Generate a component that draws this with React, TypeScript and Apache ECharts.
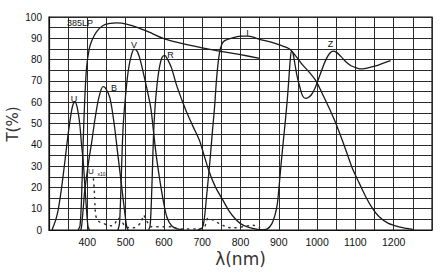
import React, { useEffect, useRef } from "react";
import * as echarts from "echarts";

const xTicks = [400, 500, 600, 700, 800, 900, 1000, 1100, 1200];
const yTicks = [0, 10, 20, 30, 40, 50, 60, 70, 80, 90, 100];

const seriesU: [number, number][] = [[308,0],[311,1.5],[318,5],[324,9.4],[333,20],[342,33],[350,45],[358,55],[363,59],[368,60.2],[373,58],[378,53],[381,48.5],[385,40],[389,33],[394,20],[398,9.4],[402,1.5],[406,0]];
const series385LP: [number, number][] = [[376,0],[381,2],[385,15],[389,40],[393,60],[398,76],[405,85],[412,89],[424,93],[441,96],[460,97],[476,97.2],[502,96.7],[537,94.7],[570,92.2],[598,90],[630,88.3],[660,87],[700,85.5],[745,84],[800,82.3],[850,80.6]];
const seriesB: [number, number][] = [[383,0],[385,1.5],[389,9.4],[393,18],[398,25],[405,34],[411,40.7],[420,52],[430,62],[441,67.3],[448,66.5],[459,62],[470,50],[480,35],[490,20],[498,8],[503,1.5],[507,0]];
const seriesV: [number, number][] = [[480,0],[484,3],[487,15],[490,32],[494,50],[502,67],[508,76],[515,82],[522,84.8],[530,84],[538,80],[546,74],[556,66],[566,57],[573,46],[580,35],[588,25],[598,14],[608,6],[620,2],[635,0.5],[650,0]];
const seriesR: [number, number][] = [[560,0],[564,2],[567,12],[570,28],[573,45],[577,58],[582,68],[588,76],[595,81],[602,82],[610,80],[620,76],[633,68],[647,61],[660,55],[675,49],[693,42],[705,35],[719,27],[735,20],[754,14],[770,9],[785,5.5],[800,3],[820,1.3],[845,0.3],[870,0]];
const seriesI: [number, number][] = [[688,0],[700,1],[706,6],[711,15],[720,32],[727,47],[732,57],[738,72],[745,83],[752,87.5],[760,89],[775,90],[800,91],[820,91],[850,89.5],[875,88.4],[900,87],[928,85],[945,81.5],[962,77.5],[980,74],[997,70],[1015,63.5],[1032,57],[1049,50],[1066,42],[1080,35],[1092,29],[1110,22],[1127,15.6],[1145,10],[1162,6.2],[1185,3.2],[1214,1.5],[1250,0.3]];
const seriesZ: [number, number][] = [[850,0],[870,0.5],[882,3],[890,7],[896,12],[900,19],[906,31],[912,42],[918,53],[923,63],[927,73],[930,80],[933,84],[937,83],[942,78],[948,72],[955,67],[962,63],[970,61.8],[978,62.3],[985,63.5],[993,66],[1001,69.6],[1012,75],[1023,80],[1033,83],[1042,84],[1050,83.5],[1062,81.5],[1075,79],[1090,77],[1105,76],[1114,75.6],[1130,76],[1153,77],[1175,78.5],[1192,79.5]];
const seriesUx10: [number, number][] = [[416,24],[418,19.5],[419,15.5],[420,12],[421,8.6],[424,5.5],[430,4],[437,3.5],[450,2.5],[463,2],[472,3],[480,5.5],[490,4],[500,1.5],[520,1],[540,3.5],[547,7],[554,4.7],[567,1.5],[598,1.5],[619,1.5],[640,0.5],[660,0.5],[690,0.5],[706,1.5],[715,5.5],[728,4.7],[745,3],[763,1.5],[779,1],[806,1.5],[832,2.3],[850,1]];

const curveNames = ["U", "385LP", "B", "V", "R", "I", "Z"];
const curveData = [seriesU, series385LP, seriesB, seriesV, seriesR, seriesI, seriesZ];

export default function App() {
  const ref = useRef<HTMLDivElement>(null);
  useEffect(() => {
    if (!ref.current) return;
    const chart = echarts.init(ref.current, undefined, { renderer: "svg" });
    const lineSeries: any[] = curveNames.map((n, i) => ({
      name: n,
      type: "line",
      data: curveData[i],
      smooth: 0.3,
      showSymbol: false,
      lineStyle: { color: "#1a1a1a", width: 1.3 },
      z: 3,
    }));
    lineSeries.push({
      name: "Ux10",
      type: "line",
      data: seriesUx10,
      smooth: 0.3,
      showSymbol: false,
      lineStyle: { color: "#333", width: 1.5, type: [1.2, 5], cap: "round" },
      z: 3,
    });
    const lbl = (text: string, x: number, y: number, size = 9) => ({
      type: "text",
      style: {
        text,
        x,
        y,
        fill: "#111",
        font: `${size}px "Liberation Sans", Arial, sans-serif`,
        textAlign: "center",
        textVerticalAlign: "middle",
        verticalAlign: "middle",
      },
      z: 10,
    });
    chart.setOption({
      animation: false,
      backgroundColor: "#fff",
      grid: {
        left: 49,
        top: 17,
        right: 9,
        bottom: 48,
        show: true,
        borderColor: "#111",
        borderWidth: 1.2,
        containLabel: false,
        outerBoundsMode: "none",
      },
      xAxis: {
        type: "value",
        min: 300,
        max: 1300,
        interval: 50,
        name: "λ(nm)",
        nameLocation: "middle",
        nameGap: 20,
        nameMoveOverlap: false,
        nameTextStyle: { fontSize: 17, fontFamily: "DejaVu Sans", color: "#333" },
        axisLine: { show: true, lineStyle: { color: "#111", width: 1.2 } },
        axisTick: { show: false },
        axisLabel: {
          margin: 6,
          fontSize: 10.5,
          fontFamily: "Liberation Sans",
          color: "#111",
          formatter: (v: number) => (xTicks.includes(v) ? String(v) : ""),
        },
        splitLine: { show: true, lineStyle: { color: "#2a2a2a", width: 1 } },
      },
      yAxis: {
        type: "value",
        min: 0,
        max: 100,
        interval: 5,
        axisLine: { show: true, lineStyle: { color: "#111", width: 1.2 } },
        axisTick: { show: false },
        axisLabel: {
          margin: 7,
          fontSize: 10,
          fontFamily: "Liberation Sans",
          color: "#111",
          formatter: (v: number) => (yTicks.includes(v) ? String(v) : ""),
        },
        splitLine: { show: true, lineStyle: { color: "#2a2a2a", width: 1 } },
      },
      graphic: [
        {
          type: "text",
          x: 13,
          y: 124,
          rotation: Math.PI / 2,
          style: {
            text: "T(%)",
            fill: "#333",
            font: '15px "DejaVu Sans", sans-serif',
            textAlign: "center",
            textVerticalAlign: "middle",
            verticalAlign: "middle",
          },
          z: 10,
        },
        lbl("385LP", 80, 23, 9),
        lbl("U", 74, 99),
        lbl("B", 114, 88),
        lbl("V", 134, 44.5),
        lbl("R", 170.5, 55),
        lbl("I", 247.5, 33),
        lbl("Z", 330.5, 43.5),
        lbl("U", 91, 171.5, 8),
        lbl("x10", 101.5, 173.5, 5),
      ],
      series: lineSeries,
    });
    return () => chart.dispose();
  }, []);
  return (
    <div
      ref={ref}
      style={{ position: "fixed", left: 0, top: 0, width: 441, height: 278, background: "#fff" }}
    />
  );
}
